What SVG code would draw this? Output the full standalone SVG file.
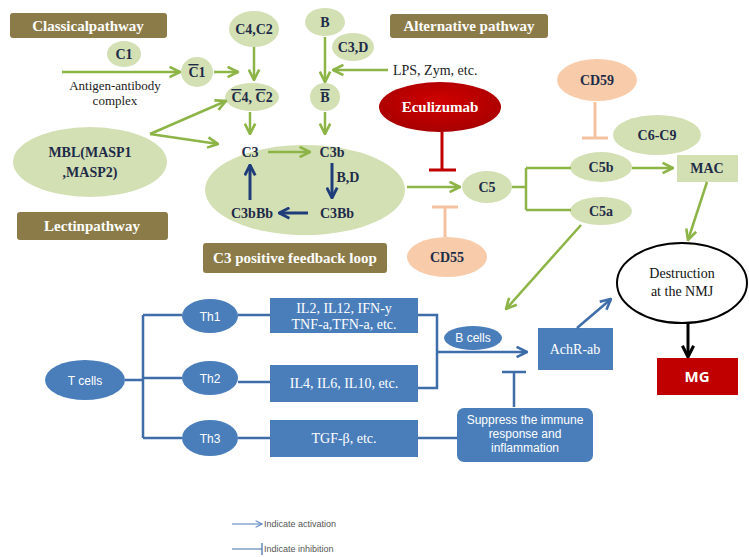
<svg xmlns="http://www.w3.org/2000/svg" width="749" height="557" viewBox="0 0 749 557">
<style>
.lbl{fill:#8B7B48;}
.lt{font-family:"Liberation Serif",serif;font-weight:bold;font-size:15px;fill:#fff;text-anchor:middle;}
.gn{fill:#D3E0B4;}
.gt{font-family:"Liberation Serif",serif;font-weight:bold;font-size:14px;fill:#1E2B48;text-anchor:middle;}
.ov{text-decoration:overline;}
.pn{fill:#F8CCAA;}
.bn{fill:#4A7EBB;}
.bt{font-family:"Liberation Serif",serif;font-size:14px;fill:#fff;text-anchor:middle;}
.st{font-family:"Liberation Sans",sans-serif;font-size:12px;fill:#fff;text-anchor:middle;}
.g{stroke:#8DB447;stroke-width:2.5;fill:none;}
.b{stroke:#3E6DAA;stroke-width:2.5;fill:none;}
.d{stroke:#1F3C7A;stroke-width:3;fill:none;}
.r{stroke:#C00000;stroke-width:3;fill:none;}
.p{stroke:#F4C2A0;stroke-width:3;fill:none;}
.k{stroke:#000;stroke-width:3;fill:none;}
.leg{font-family:"Liberation Sans",sans-serif;font-size:9px;fill:#555;}
</style>
<defs>
<marker id="ag" viewBox="0 0 10 10" refX="9" refY="5" markerWidth="13" markerHeight="13" markerUnits="userSpaceOnUse" orient="auto"><path d="M1,1 L9,5 L1,9" fill="none" stroke="#8DB447" stroke-width="2"/></marker>
<marker id="ab" viewBox="0 0 10 10" refX="9" refY="5" markerWidth="13" markerHeight="13" markerUnits="userSpaceOnUse" orient="auto"><path d="M1,1 L9,5 L1,9" fill="none" stroke="#3E6DAA" stroke-width="2"/></marker>
<marker id="ad" viewBox="0 0 10 10" refX="9" refY="5" markerWidth="13" markerHeight="13" markerUnits="userSpaceOnUse" orient="auto"><path d="M1,1 L9,5 L1,9" fill="none" stroke="#1F3C7A" stroke-width="2.2"/></marker>
<marker id="ak" viewBox="0 0 10 10" refX="9" refY="5" markerWidth="14" markerHeight="14" markerUnits="userSpaceOnUse" orient="auto"><path d="M1,1 L9,5 L1,9" fill="none" stroke="#000" stroke-width="2.2"/></marker>
<marker id="al" viewBox="0 0 10 10" refX="9" refY="5" markerWidth="8" markerHeight="8" markerUnits="userSpaceOnUse" orient="auto"><path d="M1,1 L9,5 L1,9" fill="none" stroke="#6A8FC4" stroke-width="1.5"/></marker>
<radialGradient id="red" cx="0.5" cy="0.4" r="0.6"><stop offset="0" stop-color="#D00000"/><stop offset="1" stop-color="#A80000"/></radialGradient>
</defs>

<g id="labels">
<rect class="lbl" x="10" y="13" width="157" height="25" rx="3"/>
<text class="lt" x="88" y="31">Classicalpathway</text>
<rect class="lbl" x="390" y="14" width="158" height="24" rx="3"/>
<text class="lt" x="469" y="31">Alternative pathway</text>
<rect class="lbl" x="17" y="212" width="151" height="28" rx="3"/>
<text class="lt" x="92" y="231">Lectinpathway</text>
<rect class="lbl" x="203" y="243" width="184" height="30" rx="3"/>
<text class="lt" x="295" y="263">C3 positive feedback loop</text>
</g>

<g id="C1"><ellipse class="gn" cx="124" cy="54" rx="17" ry="13"/><text class="gt" x="124" y="59">C1</text></g>
<g id="antigen"><text x="115" y="90" font-family="Liberation Serif,serif" font-size="13" text-anchor="middle" fill="#222">Antigen-antibody</text><text x="115" y="105" font-family="Liberation Serif,serif" font-size="13" text-anchor="middle" fill="#222">complex</text></g>
<g id="C1bar"><ellipse class="gn" cx="197" cy="72" rx="16" ry="15"/><text class="gt" x="197" y="77"><tspan class="ov">C</tspan>1</text></g>
<g id="C4C2"><ellipse class="gn" cx="254" cy="29" rx="25" ry="18"/><text class="gt" x="254" y="34">C4,C2</text></g>
<g id="C4C2bar"><ellipse class="gn" cx="252" cy="97" rx="27" ry="14"/><text class="gt" x="252" y="102"><tspan class="ov">C</tspan>4, <tspan class="ov">C</tspan>2</text></g>
<g id="B"><ellipse class="gn" cx="325" cy="22" rx="20" ry="14"/><text class="gt" x="325" y="27">B</text></g>
<g id="C3D"><ellipse class="gn" cx="353" cy="47" rx="21" ry="14"/><text class="gt" x="353" y="52">C3,D</text></g>
<g id="LPS"><text x="393" y="75" font-family="Liberation Serif,serif" font-size="14" fill="#222">LPS, Zym, etc.</text></g>
<g id="Bbar"><ellipse class="gn" cx="325" cy="97" rx="15" ry="14"/><text class="gt" x="325" y="102"><tspan class="ov">B</tspan></text></g>
<g id="MBL"><ellipse class="gn" cx="90" cy="162" rx="77" ry="35"/><text class="gt" x="90" y="157">MBL(MASP1</text><text class="gt" x="90" y="177">,MASP2)</text></g>
<g id="C3loop"><ellipse class="gn" cx="305" cy="190" rx="100" ry="45"/>
<text class="gt" x="250" y="157">C3</text><text class="gt" x="332" y="157">C3b</text><text class="gt" x="348" y="182">B,D</text>
<text class="gt" x="337" y="218">C3Bb</text><text class="gt" x="252" y="218">C3bBb</text></g>
<g id="Eculizumab"><ellipse cx="440" cy="107" rx="61" ry="25" fill="url(#red)"/><text class="lt" x="440" y="112">Eculizumab</text></g>
<g id="CD55"><ellipse class="pn" cx="447" cy="257" rx="40" ry="20"/><text class="gt" x="447" y="262">CD55</text></g>
<g id="C5"><ellipse class="gn" cx="487" cy="187" rx="25" ry="16"/><text class="gt" x="487" y="192">C5</text></g>
<g id="CD59"><ellipse class="pn" cx="597" cy="80" rx="40" ry="21"/><text class="gt" x="597" y="85">CD59</text></g>
<g id="C6C9"><ellipse class="gn" cx="657" cy="135" rx="44" ry="20"/><text class="gt" x="657" y="140">C6-C9</text></g>
<g id="C5b"><ellipse class="gn" cx="601" cy="167" rx="31" ry="15"/><text class="gt" x="601" y="172">C5b</text></g>
<g id="C5a"><ellipse class="gn" cx="601" cy="211" rx="31" ry="14"/><text class="gt" x="601" y="216">C5a</text></g>
<g id="MAC"><rect class="gn" x="677" y="155" width="61" height="27"/><text class="gt" x="707" y="173" font-weight="normal">MAC</text></g>
<g id="Destruction"><ellipse cx="682" cy="283" rx="65" ry="40" fill="#fff" stroke="#000" stroke-width="2"/><text x="682" y="278" font-family="Liberation Serif,serif" font-size="14" text-anchor="middle" fill="#111">Destruction</text><text x="682" y="296" font-family="Liberation Serif,serif" font-size="14" text-anchor="middle" fill="#111">at the NMJ</text></g>
<g id="MG"><rect x="657" y="358" width="81" height="37" fill="#C00000"/><text x="697" y="382" font-family="Open Sans,sans-serif" font-weight="bold" font-size="15" text-anchor="middle" fill="#fff">MG</text></g>
<g id="Tcells"><ellipse class="bn" cx="85" cy="380" rx="40" ry="20"/><text class="st" x="85" y="385" font-size="13">T cells</text></g>
<g id="Th1"><ellipse class="bn" cx="210" cy="316" rx="28" ry="17"/><text class="st" x="210" y="321">Th1</text></g>
<g id="Th2"><ellipse class="bn" cx="210" cy="378" rx="28" ry="17"/><text class="st" x="210" y="383">Th2</text></g>
<g id="Th3"><ellipse class="bn" cx="210" cy="438" rx="28" ry="18"/><text class="st" x="210" y="443">Th3</text></g>
<g id="IL2"><rect class="bn" x="270" y="298" width="148" height="35"/><text class="bt" x="344" y="313">IL2, IL12, IFN-y</text><text class="bt" x="344" y="329">TNF-a,TFN-a, etc.</text></g>
<g id="IL4"><rect class="bn" x="270" y="365" width="148" height="37"/><text class="bt" x="344" y="388">IL4, IL6, IL10, etc.</text></g>
<g id="TGF"><rect class="bn" x="270" y="420" width="148" height="37"/><text class="bt" x="344" y="443">TGF-β, etc.</text></g>
<g id="Bcells"><ellipse class="bn" cx="473" cy="338" rx="29" ry="12"/><text class="st" x="473" y="342" font-size="10">B cells</text></g>
<g id="AchR"><rect class="bn" x="538" y="328" width="75" height="42"/><text class="bt" x="575" y="354">AchR-ab</text></g>
<g id="Suppress"><rect class="bn" x="457" y="408" width="136" height="54" rx="7"/><text class="st" x="525" y="424" font-size="9.5">Suppress the immune</text><text class="st" x="525" y="438" font-size="9.5">response and</text><text class="st" x="525" y="452" font-size="9.5">inflammation</text></g>

<g id="connectors">
<line class="g" x1="62" y1="72" x2="180" y2="72" marker-end="url(#ag)"/>
<line class="g" x1="214" y1="72" x2="238" y2="72" marker-end="url(#ag)"/>
<line class="g" x1="254" y1="47" x2="254" y2="80" marker-end="url(#ag)"/>
<line class="g" x1="325" y1="37" x2="325" y2="82" marker-end="url(#ag)"/>
<line class="g" x1="388" y1="70" x2="333" y2="70" marker-end="url(#ag)"/>
<line class="g" x1="150" y1="134" x2="226" y2="101" marker-end="url(#ag)"/>
<line class="g" x1="150" y1="134" x2="218" y2="144" marker-end="url(#ag)"/>
<line class="g" x1="250" y1="112" x2="250" y2="134" marker-end="url(#ag)"/>
<line class="g" x1="325" y1="112" x2="325" y2="134" marker-end="url(#ag)"/>
<line class="g" x1="268" y1="152" x2="310" y2="152" marker-end="url(#ag)"/>
<line class="d" x1="332" y1="163" x2="332" y2="198" marker-end="url(#ad)"/>
<line class="d" x1="308" y1="213" x2="279" y2="213" marker-end="url(#ad)"/>
<line class="d" x1="250" y1="200" x2="250" y2="165" marker-end="url(#ad)"/>
<line class="g" x1="407" y1="187" x2="460" y2="187" marker-end="url(#ag)"/>
<path class="r" d="M442,132 V170 M429,170 H456"/>
<path class="p" d="M445,237 V207 M432,207 H458"/>
<path class="p" d="M595,102 V138 M582,138 H608"/>
<path class="g" d="M512,187 H526 M526,168 V210 M526,168 H571 M526,210 H571"/>
<line class="g" x1="632" y1="168" x2="673" y2="168" marker-end="url(#ag)"/>
<line class="g" x1="707" y1="182" x2="688" y2="240" marker-end="url(#ag)"/>
<line class="g" x1="581" y1="225" x2="506" y2="309" marker-end="url(#ag)"/>
<line class="k" x1="688" y1="323" x2="688" y2="357" marker-end="url(#ak)"/>
<path class="b" d="M125,380 H143 M143,315 V438 M143,315 H182 M143,378 H182 M143,438 H182"/>
<path class="b" d="M238,315 H270 M238,382 H270 M238,438 H270"/>
<path class="b" d="M418,315 H437 V388 H418"/>
<line class="b" x1="437" y1="352" x2="527" y2="352" marker-end="url(#ab)"/>
<line class="b" x1="577" y1="328" x2="611" y2="299" marker-end="url(#ab)"/>
<path class="b" d="M514,407 V372 M502,372 H526"/>
<line class="b" x1="418" y1="438" x2="457" y2="438"/>
</g>

<g id="legend">
<line x1="232" y1="524" x2="262" y2="524" stroke="#6A8FC4" stroke-width="1.2" marker-end="url(#al)"/>
<text class="leg" x="264" y="527">Indicate activation</text>
<path d="M232,549 H262 M262,543 V555" stroke="#3E6DAA" stroke-width="1.2" fill="none"/>
<text class="leg" x="264" y="552">Indicate inhibition</text>
</g>
</svg>
